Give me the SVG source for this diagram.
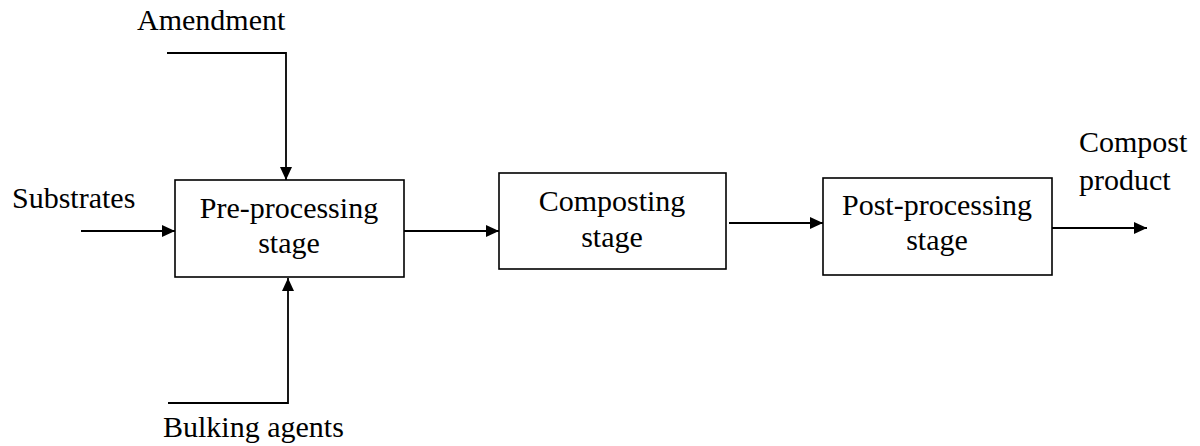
<svg xmlns="http://www.w3.org/2000/svg" width="1200" height="446" viewBox="0 0 1200 446">
  <style>
    text { font-family: "Liberation Serif", "Times New Roman", serif; font-size: 30px; fill: #000; }
    .box { fill: #fff; stroke: #000; stroke-width: 1.6; }
    .wire { fill: none; stroke: #000; stroke-width: 1.8; }
    .mid { text-anchor: middle; }
  </style>
  <defs>
    <marker id="head" viewBox="0 0 13 12" refX="13" refY="6" markerWidth="13" markerHeight="12" markerUnits="userSpaceOnUse" orient="auto">
      <path d="M0,0 L13,6 L0,12 Z" fill="#000"/>
    </marker>
  </defs>
  <rect width="1200" height="446" fill="#fff"/>

  <g id="connectors">
    <path class="wire" d="M167,53 H286 V180" marker-end="url(#head)"/>
    <path class="wire" d="M168,403 H288 V278" marker-end="url(#head)"/>
    <path class="wire" d="M81,231 H175" marker-end="url(#head)"/>
    <path class="wire" d="M404,231 H499" marker-end="url(#head)"/>
    <path class="wire" d="M729,223 H823" marker-end="url(#head)"/>
    <path class="wire" d="M1052,228 H1147" marker-end="url(#head)"/>
  </g>

  <g id="pre-processing">
    <rect class="box" x="175" y="180" width="229" height="97"/>
    <text class="mid" x="289" y="218">Pre-processing</text>
    <text class="mid" x="289" y="253">stage</text>
  </g>

  <g id="composting">
    <rect class="box" x="499" y="173" width="227" height="96"/>
    <text class="mid" x="612" y="211">Composting</text>
    <text class="mid" x="612" y="247">stage</text>
  </g>

  <g id="post-processing">
    <rect class="box" x="823" y="178" width="229" height="97"/>
    <text class="mid" x="937" y="215">Post-processing</text>
    <text class="mid" x="937" y="250">stage</text>
  </g>

  <g id="amendment">
    <text x="137" y="30">Amendment</text>
  </g>
  <g id="substrates">
    <text x="12" y="208">Substrates</text>
  </g>
  <g id="bulking-agents">
    <text x="163" y="437">Bulking agents</text>
  </g>
  <g id="compost-product">
    <text x="1079" y="152">Compost</text>
    <text x="1079" y="190">product</text>
  </g>
</svg>
